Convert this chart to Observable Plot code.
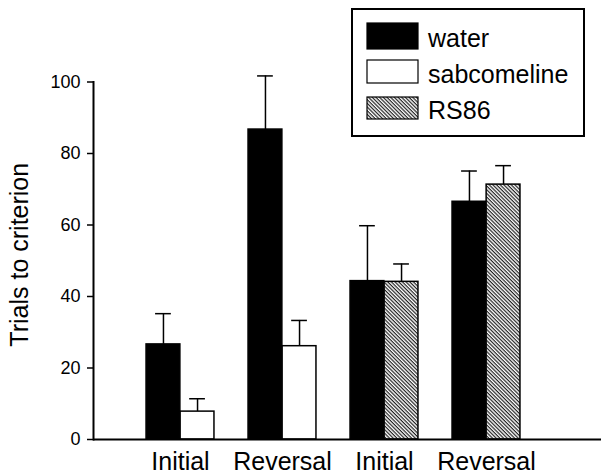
<!DOCTYPE html>
<html>
<head>
<meta charset="utf-8">
<script src="https://cdn.jsdelivr.net/npm/d3@7"></script>
<script src="https://cdn.jsdelivr.net/npm/@observablehq/plot@0.6"></script>
<style>
  html, body { margin: 0; padding: 0; background: white; }
  #chart { width: 602px; height: 475px; }
</style>
</head>
<body>
<div id="chart"></div>
<script>
// ---- data ----
const groupKeys = ["g1", "g2", "g3", "g4"];
const groupLabels = ["Initial", "Reversal", "Initial", "Reversal"];
const drugOfGroup = ["sabcomeline", "sabcomeline", "RS86", "RS86"];
const waterMean = [26.6, 86.7, 44.3, 66.5];
const waterSem = [8.6, 15.0, 15.5, 8.6];
const drugMean = [7.8, 26.1, 44.1, 71.3];
const drugSem = [3.6, 7.2, 5.0, 5.3];
const seriesNames = ["water", "sabcomeline", "RS86"];
const yTicks = [0, 20, 40, 60, 80, 100];

const fills = {water: "black", sabcomeline: "white", RS86: "url(#hatch)"};
const font = "'Liberation Sans', Arial, Helvetica, sans-serif";

const waterRows = groupKeys.map((g, i) => ({g, series: "water", mean: waterMean[i], sem: waterSem[i]}));
const drugRows = groupKeys.map((g, i) => ({g, series: drugOfGroup[i], mean: drugMean[i], sem: drugSem[i]}));
const sabRows = drugRows.filter(d => d.series === "sabcomeline");
const rsRows = drugRows.filter(d => d.series === "RS86");

const bw = (537 - 128) / groupKeys.length; // band width
const barW = bw / 3;
const capHalf = 8;

const errMarks = (rows, side) => {
  const dx = side === "left" ? -barW / 2 : barW / 2;
  const center = bw / 2 + dx;
  return [
    Plot.ruleX(rows, {x: "g", y1: "mean", y2: d => d.mean + d.sem, dx, stroke: "black", strokeWidth: 1.5}),
    Plot.tickY(rows, {x: "g", y: d => d.mean + d.sem, insetLeft: center - capHalf, insetRight: bw - center - capHalf, stroke: "black", strokeWidth: 1.5})
  ];
};

const barMark = (rows, side, fill) => Plot.barY(rows, {
  x: "g", y: "mean",
  insetLeft: side === "left" ? barW / 2 : barW * 1.5,
  insetRight: side === "left" ? barW * 1.5 : barW / 2,
  fill, stroke: "black", strokeWidth: 1.5
});

const chart = Plot.plot({
  width: 602,
  height: 475,
  marginTop: 81.5,
  marginBottom: 36,
  marginLeft: 93,
  marginRight: 1,
  style: {fontFamily: font, fontSize: "18px", background: "white", color: "black"},
  x: {domain: groupKeys, range: [128, 537], padding: 0, axis: null},
  y: {domain: [0, 100], axis: null},
  marks: [
    ...errMarks(waterRows, "left"),
    ...errMarks(sabRows, "right"),
    ...errMarks(rsRows, "right"),
    barMark(waterRows, "left", fills.water),
    barMark(sabRows, "right", fills.sabcomeline),
    barMark(rsRows, "right", fills.RS86),
    Plot.axisY({ticks: yTicks, tickSize: 6, tickPadding: 7, fontSize: 18, strokeWidth: 1.5, label: null}),
    Plot.axisX({tickSize: 0, tickPadding: 13, fontSize: 25, label: null,
      tickFormat: k => groupLabels[groupKeys.indexOf(k)]}),
    Plot.ruleY([0], {stroke: "black", strokeWidth: 2}),
    Plot.frame({anchor: "left", stroke: "black", strokeWidth: 2}),
    Plot.text(["Trials to criterion"], {frameAnchor: "left", textAnchor: "middle", rotate: -90, dx: -74, dy: -6, fontSize: 25, fill: "black"})
  ]
});

const svg = d3.select(chart);
const defs = svg.insert("defs", ":first-child");
const pat = defs.append("pattern")
  .attr("id", "hatch").attr("patternUnits", "userSpaceOnUse")
  .attr("width", 2.6).attr("height", 2.6)
  .attr("patternTransform", "rotate(45)");
pat.append("rect").attr("width", 2.6).attr("height", 2.6).attr("fill", "white");
pat.append("rect").attr("width", 2.6).attr("height", 1.2).attr("fill", "#222");

// legend box (top right)
const lg = svg.append("g").attr("font-family", font).attr("font-size", 25).attr("text-anchor", "start");
lg.append("rect").attr("x", 352).attr("y", 9).attr("width", 232).attr("height", 127)
  .attr("fill", "white").attr("stroke", "black").attr("stroke-width", 2);
const swatchY = [23, 60, 97];
const swatchH = [26, 23, 22];
const textY = [47, 83, 119];
seriesNames.forEach((name, i) => {
  lg.append("rect").attr("x", 367).attr("y", swatchY[i]).attr("width", 51).attr("height", swatchH[i])
    .attr("fill", fills[name]).attr("stroke", "black").attr("stroke-width", 1.2);
  lg.append("text").attr("x", 428).attr("y", textY[i]).attr("fill", "black")
    .attr("text-anchor", "start").text(name);
});

document.getElementById("chart").appendChild(chart);
</script>
</body>
</html>
